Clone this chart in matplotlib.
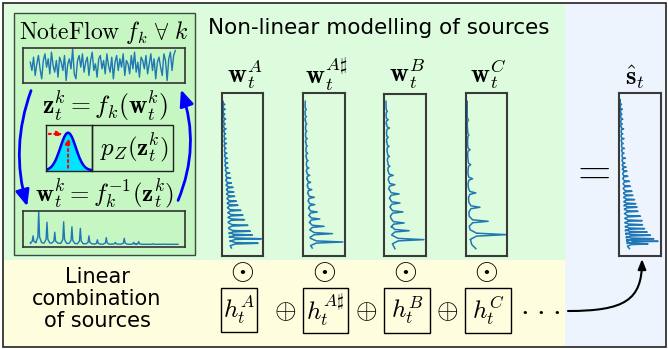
import numpy as np
import matplotlib.pyplot as plt
from matplotlib.patches import Rectangle, FancyArrowPatch
from matplotlib.path import Path

plt.rcParams['mathtext.fontset'] = 'cm'

# latent noise signal z (NoteFlow top strip)
noise = [0.2, -0.3, 0.5, -0.6, 0.1, 0.6, -0.2, -0.8, 0.3, 0.7, -0.1, 0.4, -0.5, 0.8, 0.0,
         -0.4, 0.3, -0.7, 0.5, 0.2, -0.3, 0.6, -0.9, 0.1, 0.4, -0.2, 1.0, -0.5, -0.8, 0.3,
         0.6, -0.1, 0.7, -0.4, 0.2, 0.5, -0.6, 0.3, 0.8, -0.3, 0.1, -0.7, 0.4, 0.6, -0.2,
         0.3, -0.5, 0.7, 0.0, -0.4, 0.5, -0.8, 0.2, 0.6, -0.3, 0.4, -0.1, 0.7, -0.6, 0.3,
         0.1, -0.5, 0.6, -0.2, 0.8, -0.4, 0.2, -0.7, 0.5, 0.3, -0.2, 0.6, -0.5, 0.1, 0.7,
         -0.3, 0.4, -0.8, 0.2, 0.5, -0.1, -0.6, 0.7, 0.3, -0.9, 0.4, 0.8, -0.3, 0.6, 0.9]

# standard normal density, z = -3..3 step 0.25
gauss_z = [-3.0, -2.75, -2.5, -2.25, -2.0, -1.75, -1.5, -1.25, -1.0, -0.75, -0.5, -0.25, 0.0,
           0.25, 0.5, 0.75, 1.0, 1.25, 1.5, 1.75, 2.0, 2.25, 2.5, 2.75, 3.0]
gauss_p = [0.0044, 0.0091, 0.0175, 0.0317, 0.0540, 0.0863, 0.1295, 0.1826, 0.2420, 0.3011,
           0.3521, 0.3867, 0.3989, 0.3867, 0.3521, 0.3011, 0.2420, 0.1826, 0.1295, 0.0863,
           0.0540, 0.0317, 0.0175, 0.0091, 0.0044]

# NoteFlow output spectrum (horizontal)
prior_freq = [0.062, 0.097, 0.148, 0.196, 0.251, 0.302, 0.354, 0.407, 0.459, 0.514, 0.570,
              0.625, 0.683, 0.714, 0.802, 0.869]
prior_amp = [0.31, 0.98, 0.69, 0.41, 0.70, 0.56, 0.52, 0.31, 0.20, 0.26, 0.13, 0.24, 0.13,
             0.15, 0.09, 0.08]
prior_base = [0.12, 0.12, 0.11, 0.11, 0.10, 0.10, 0.09, 0.09, 0.08, 0.08, 0.08, 0.08, 0.075,
              0.075, 0.075, 0.075]

# source spectra (vertical: frequency up, amplitude right)
wA_freq = [0.93, 0.90, 0.87, 0.84, 0.81, 0.78, 0.75, 0.72, 0.69, 0.66, 0.63, 0.60, 0.57,
           0.540, 0.509, 0.479, 0.448, 0.421, 0.393, 0.366, 0.336, 0.311, 0.280, 0.250,
           0.223, 0.188, 0.152, 0.129, 0.106, 0.078]
wA_amp = [0.07, 0.08, 0.07, 0.09, 0.08, 0.10, 0.09, 0.10, 0.11, 0.10, 0.12, 0.13, 0.14,
          0.15, 0.19, 0.21, 0.23, 0.27, 0.29, 0.31, 0.35, 0.39, 0.46, 0.51, 0.55, 0.63, 0.69,
          0.74, 0.96, 0.88]
wA_base = [0.03, 0.03, 0.03, 0.04, 0.04, 0.04, 0.05, 0.05, 0.05, 0.06, 0.06, 0.07, 0.07,
           0.08, 0.09, 0.09, 0.10, 0.11, 0.11, 0.12, 0.13, 0.13, 0.14, 0.15, 0.15, 0.16, 0.17,
           0.18, 0.19, 0.20]

wAs_freq = [0.90, 0.855, 0.81, 0.765, 0.72, 0.675, 0.63, 0.585, 0.540, 0.495, 0.452, 0.407,
            0.360, 0.315, 0.270, 0.227, 0.182, 0.137, 0.086]
wAs_amp = [0.08, 0.08, 0.09, 0.09, 0.10, 0.10, 0.11, 0.12, 0.14, 0.16, 0.18, 0.21, 0.27,
           0.28, 0.34, 0.40, 0.50, 0.70, 0.95]
wAs_base = [0.05, 0.05, 0.06, 0.06, 0.06, 0.07, 0.07, 0.08, 0.08, 0.09, 0.10, 0.11, 0.12,
            0.13, 0.14, 0.15, 0.16, 0.17, 0.18]

wB_freq = [0.893, 0.841, 0.790, 0.733, 0.677, 0.615, 0.554, 0.498, 0.440, 0.383, 0.327,
           0.272, 0.204, 0.156, 0.101]
wB_amp = [0.08, 0.10, 0.13, 0.10, 0.12, 0.13, 0.14, 0.22, 0.26, 0.36, 0.38, 0.45, 0.48,
          0.60, 0.95]
wB_base = [0.05, 0.05, 0.06, 0.06, 0.07, 0.08, 0.09, 0.10, 0.11, 0.13, 0.14, 0.15, 0.17,
           0.18, 0.20]

wC_freq = [0.834, 0.742, 0.652, 0.560, 0.474, 0.387, 0.299, 0.213, 0.131]
wC_amp = [0.06, 0.07, 0.10, 0.115, 0.16, 0.24, 0.34, 0.54, 0.98]
wC_base = [0.03, 0.04, 0.04, 0.05, 0.05, 0.06, 0.07, 0.08, 0.10]

s_freq = [0.93, 0.90, 0.87, 0.84, 0.81, 0.78, 0.75, 0.72, 0.69, 0.66, 0.63, 0.60, 0.57,
          0.545, 0.520, 0.489, 0.458, 0.428, 0.397, 0.372, 0.346, 0.321, 0.299, 0.274,
          0.244, 0.217, 0.192, 0.168, 0.147, 0.127, 0.106, 0.090, 0.074]
s_amp = [0.06, 0.08, 0.07, 0.09, 0.08, 0.11, 0.09, 0.12, 0.10, 0.13, 0.12, 0.15, 0.14,
         0.17, 0.19, 0.21, 0.25, 0.27, 0.31, 0.33, 0.37, 0.40, 0.43, 0.45, 0.51, 0.55, 0.56,
         0.61, 0.67, 0.75, 0.83, 0.93, 0.69]
s_base = [0.03, 0.03, 0.04, 0.04, 0.04, 0.05, 0.05, 0.05, 0.06, 0.06, 0.07, 0.07, 0.08,
          0.08, 0.09, 0.09, 0.10, 0.10, 0.11, 0.11, 0.12, 0.12, 0.13, 0.13, 0.14, 0.14, 0.15,
          0.15, 0.16, 0.17, 0.18, 0.19, 0.20]

source_labels = [r'$\mathbf{w}_t^A$', r'$\mathbf{w}_t^{A\sharp}$', r'$\mathbf{w}_t^B$', r'$\mathbf{w}_t^C$']
gain_labels = [r'$h_t^A$', r'$h_t^{A\sharp}$', r'$h_t^B$', r'$h_t^C$']

W, H = 668, 349
fig = plt.figure(figsize=(W / 100, H / 100), dpi=100)
ax = fig.add_axes([0, 0, 1, 1])
ax.set_xlim(0, W)
ax.set_ylim(H, 0)
ax.axis('off')

BLUE = '#1f77b4'


def rect(x0, y0, x1, y1, fc='none', ec='none', lw=1.0, z=1):
    ax.add_patch(Rectangle((x0, y0), x1 - x0, y1 - y0, facecolor=fc, edgecolor=ec, lw=lw, zorder=z))


def inset(x0, y0, x1, y1, ec='#333333', lw=1.2):
    a = fig.add_axes([x0 / W, 1 - y1 / H, (x1 - x0) / W, (y1 - y0) / H])
    a.set_xticks([])
    a.set_yticks([])
    a.patch.set_alpha(0)
    for s in a.spines.values():
        s.set_edgecolor(ec)
        s.set_linewidth(lw)
    a.set_xlim(0, 1)
    a.set_ylim(0, 1)
    return a


def peak_line(start, freq, amp, base, tail, d):
    # each peak drawn as a narrow spike with a softer foot
    sgn = 1 if freq[-1] > freq[0] else -1
    f = [start[0]]
    v = [start[1]]
    for fi, ai, bi in zip(freq, amp, base):
        foot = bi + 0.18 * (ai - bi)
        f += [fi - 2 * sgn * d, fi - sgn * d * 0.6, fi, fi + sgn * d * 0.6, fi + 2 * sgn * d]
        v += [bi, foot, ai, foot, bi]
    for tf, tv in tail:
        f.append(tf)
        v.append(tv)
    return np.array(f), np.array(v)


# backgrounds
rect(3, 3, 565, 260, fc='#ddfcdd')
rect(3, 260, 565, 347, fc='#fefedf')
rect(565, 3, 666, 347, fc='#eef4fd')
rect(14, 13, 195, 255, fc='#c6f7c3', ec='#3c4c3c', lw=1.0, z=2)
rect(3, 3, 666, 347, ec='#222222', lw=1.2, z=10)

# NoteFlow panel
ax.text(104, 32, r'$\mathrm{NoteFlow}\ f_k\ \forall\ k$', fontsize=17, ha='center', va='center', zorder=5)
a = inset(23, 48, 185, 83)
a.plot(np.linspace(0.045, 0.94, len(noise)), noise, color=BLUE, lw=1.0)
a.set_ylim(-1.05, 1.05)

ax.text(105, 106, r'$\mathbf{z}_t^k = f_k(\mathbf{w}_t^k)$', fontsize=18.5, ha='center', va='center', zorder=5)

a = inset(46, 125, 92, 171, ec='#222222', lw=1.0)
a.fill_between(gauss_z, gauss_p, color='#00e5ff', zorder=1)
a.plot([-2.9] + gauss_z + [3.2], [0] + gauss_p + [0], color='#0000ee', lw=1.8, zorder=2)
a.set_xlim(-2.86, 3.1)
a.set_ylim(-0.006, 0.479)
a.annotate('', xy=(0, 0.372), xytext=(0, 0.0), arrowprops=dict(arrowstyle='-|>', color='red', lw=1.5, ls=':', mutation_scale=8))
a.annotate('', xy=(-0.35, 0.385), xytext=(-2.86, 0.385), arrowprops=dict(arrowstyle='-|>', color='red', lw=1.5, ls=':', mutation_scale=8))
rect(92, 125, 173, 171, ec='#222222', lw=1.0, z=4)
ax.text(134, 148, r'$p_Z(\mathbf{z}_t^k)$', fontsize=18, ha='center', va='center', zorder=5)

ax.text(105, 194, r'$\mathbf{w}_t^k = f_k^{-1}(\mathbf{z}_t^k)$', fontsize=18, ha='center', va='center', zorder=5)

a = inset(23, 211, 185, 247)
fx, fy = peak_line((0.048, 0.10), prior_freq, prior_amp, prior_base, [(0.957, 0.075)], 0.009)
a.plot(fx, fy, color=BLUE, lw=1.0)

ax.add_patch(FancyArrowPatch((32, 88), (28, 209), connectionstyle='arc3,rad=0.17',
                             arrowstyle='-|>,head_length=0.7,head_width=0.3', mutation_scale=14,
                             color='#0000ff', lw=2.0, zorder=6))
ax.add_patch(FancyArrowPatch((177, 203), (180, 87), connectionstyle='arc3,rad=0.2',
                             arrowstyle='-|>,head_length=0.7,head_width=0.3', mutation_scale=14,
                             color='#0000ff', lw=2.0, zorder=6))

# non-linear modelling of sources
ax.text(379, 28, 'Non-linear modelling of sources', fontsize=15.5, ha='center', va='center')
boxes = [(222, 93, 263, 256), (303, 93, 345, 256), (384, 94, 426, 256), (466, 93, 507, 256)]
spectra = [((0.949, 0.024), wA_freq, wA_amp, wA_base, [(0.049, 0.23)], 0.0075),
           ((0.949, 0.055), wAs_freq, wAs_amp, wAs_base, [(0.049, 0.22)], 0.011),
           ((0.955, 0.048), wB_freq, wB_amp, wB_base, [(0.045, 0.26)], 0.013),
           ((0.949, 0.030), wC_freq, wC_amp, wC_base, [(0.10, 0.11), (0.07, 0.14), (0.045, 0.24)], 0.015)]
for (x0, y0, x1, y1), spec, lab in zip(boxes, spectra, source_labels):
    a = inset(x0, y0, x1, y1, ec='#3a3a3a', lw=1.5)
    f, v = peak_line(*spec)
    a.plot(v, f, color=BLUE, lw=1.1)
    ax.text((x0 + x1) / 2 + 2, 74, lab, fontsize=19, ha='center', va='center')

ax.text(590, 171, '$=$', fontsize=31, ha='center', va='center')
a = inset(619, 93, 661, 256, ec='#3a3a3a', lw=1.5)
f, v = peak_line((0.959, 0.03), s_freq, s_amp, s_base, [(0.045, 0.25)], 0.007)
a.plot(v, f, color=BLUE, lw=1.1)
ax.text(635, 77, r'$\hat{\mathbf{s}}_t$', fontsize=19, ha='center', va='center')

# linear combination of sources
ax.text(97, 299, 'Linear\ncombination\nof sources', fontsize=15, ha='center', va='center', linespacing=1.1)
hboxes = [(221, 288, 257, 332), (303, 288, 348, 333), (384, 288, 430, 333), (465, 288, 511, 333)]
for (x0, y0, x1, y1), lab, (bx0, _, bx1, _) in zip(hboxes, gain_labels, boxes):
    rect(x0, y0, x1, y1, ec='black', lw=1.0, z=4)
    ax.text((x0 + x1) / 2, (y0 + y1) / 2, lab, fontsize=18, ha='center', va='center')
    ax.text((bx0 + bx1) / 2, 271, r'$\odot$', fontsize=22, ha='center', va='center')
for x in [285, 366, 447]:
    ax.text(x, 311, r'$\oplus$', fontsize=20, ha='center', va='center')
for x in [524, 540, 556]:
    ax.text(x, 309, r'$\cdot$', fontsize=22, ha='center', va='center')

arc = Path([(568, 311), (625, 311), (642, 300), (642, 259)], [Path.MOVETO, Path.CURVE4, Path.CURVE4, Path.CURVE4])
ax.add_patch(FancyArrowPatch(path=arc, arrowstyle='-|>,head_length=0.5,head_width=0.2', mutation_scale=12,
                             color='black', lw=1.5, zorder=6))

fig.savefig('out.png', dpi=100)
